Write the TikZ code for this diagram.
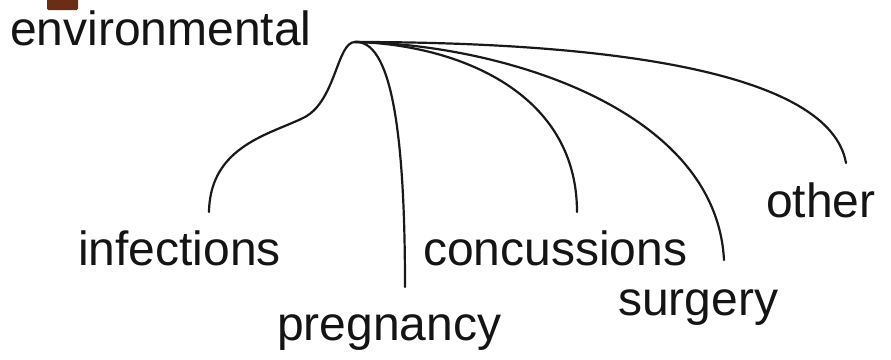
\documentclass[tikz,border=0pt]{standalone}
\usepackage{fontspec}
\setmainfont{Liberation Sans}
\definecolor{tagbrown}{HTML}{6B2D14}
\begin{document}
\begin{tikzpicture}[x=1pt,y=-1pt,
  lbl/.style={anchor=base west,inner sep=0pt,font=\fontsize{48}{56}\selectfont,text=black!92},
  branch/.style={draw=black!90,line width=2.2pt,line cap=round}]
\useasboundingbox (0,0) rectangle (891,359);
\fill[tagbrown,rounded corners=1.5pt] (47,-3) rectangle (78,10);
\node[lbl] (env) at (10,45) {environmental};
\node[lbl] (inf) at (78,265) {infections};
\node[lbl] (preg) at (277,340) {pregnancy};
\node[lbl] (conc) at (423,265) {concussions};
\node[lbl] (surg) at (618,315) {surgery};
\node[lbl] (oth) at (766,217) {other};
\coordinate (hub) at (355,42);
\coordinate (einf) at (209,212);
\coordinate (epreg) at (405,287);
\coordinate (econc) at (577,212);
\coordinate (esurg) at (724,260);
\coordinate (eoth) at (846,163);
\draw[branch] (hub) .. controls (337,42) and (336,100) .. (305,117)
  .. controls (272,134) and (210,145) .. (einf);
\draw[branch] (hub) .. controls (390,40) and (405,125) .. (epreg);
\draw[branch] (hub) .. controls (450,44) and (577,88) .. (econc);
\draw[branch] (hub) .. controls (500,44) and (716,108) .. (esurg);
\draw[branch] (hub) .. controls (610,42) and (830,72) .. (eoth);
\end{tikzpicture}
\end{document}
